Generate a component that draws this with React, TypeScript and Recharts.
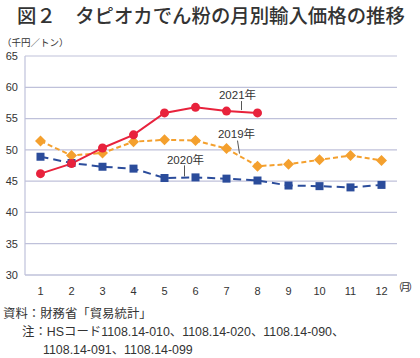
import { LineChart, Line, XAxis, YAxis, CartesianGrid } from "recharts";

const months = ["1", "2", "3", "4", "5", "6", "7", "8", "9", "10", "11", "12"];
const y2019 = [51.4, 49.1, 49.5, 51.3, 51.6, 51.5, 50.2, 47.4, 47.7, 48.4, 49.1, 48.3];
const y2020 = [48.9, 47.9, 47.3, 47.0, 45.5, 45.6, 45.4, 45.1, 44.3, 44.2, 44.0, 44.4];
const y2021 = [46.2, 47.8, 50.3, 52.4, 55.9, 56.8, 56.2, 55.9];
const yTicks = [30, 35, 40, 45, 50, 55, 60, 65];

const data = months.map((m, i) => ({
  month: m,
  y2019: y2019[i],
  y2020: y2020[i],
  y2021: i < y2021.length ? y2021[i] : null,
}));

const FONT = '"Liberation Sans", "Noto Sans CJK JP", sans-serif';
const JP = '"Noto Sans CJK JP", "Liberation Sans", sans-serif';

// label with a short leader line, drawn next to one chosen point of a series
function seriesLabel(
  text: string,
  at: number,
  tx: number,
  ty: number,
  l1: [number, number],
  l2: [number, number]
) {
  return (props: any) => {
    const { x, y, index } = props;
    if (index !== at || x == null) return null;
    return (
      <g>
        <line x1={x + l1[0]} y1={y + l1[1]} x2={x + l2[0]} y2={y + l2[1]} stroke="#555" strokeWidth={1} />
        <text x={x + tx} y={y + ty} textAnchor="middle" dominantBaseline="central" fontSize={11.5} fill="#333" fontFamily={FONT}>
          {text}
        </text>
      </g>
    );
  };
}

export default function App() {
  return (
    <div style={{ position: "absolute", left: 0, top: 0, width: 420, height: 358, background: "#fff", fontFamily: JP }}>
      <div style={{ position: "absolute", left: 17, top: 3, fontSize: 19.4, fontWeight: 500, color: "#333", whiteSpace: "nowrap", letterSpacing: 0, lineHeight: "24px" }}>
        図２　タピオカでん粉の月別輸入価格の推移
      </div>
      <div style={{ position: "absolute", left: 2, top: 36, fontSize: 9.5, color: "#333", whiteSpace: "nowrap", lineHeight: "12px" }}>
        （千円／トン）
      </div>
      <LineChart width={420} height={358} data={data} margin={{ top: 56, right: 23, bottom: 63, left: 5 }}>
        <CartesianGrid stroke="#BFC1DA" strokeWidth={1.2} vertical={false} />
        <XAxis
          dataKey="month"
          padding={{ left: 15.5, right: 15.5 }}
          tick={{ fontSize: 11, fill: "#333", fontFamily: FONT }}
          tickLine={false}
          axisLine={{ stroke: "#BFC1DA", strokeWidth: 1.2 }}
          tickMargin={6}
          height={20}
        />
        <YAxis
          domain={[30, 65]}
          ticks={yTicks}
          interval={0}
          tick={{ fontSize: 11, fill: "#333", fontFamily: FONT }}
          tickLine={false}
          axisLine={{ stroke: "#BFC1DA", strokeWidth: 1.2 }}
          width={20}
          tickMargin={1}
        />
        <YAxis
          yAxisId="r"
          orientation="right"
          domain={[30, 65]}
          tick={false}
          tickLine={false}
          axisLine={{ stroke: "#BFC1DA", strokeWidth: 1.2 }}
          width={0}
        />
        <Line
          dataKey="y2020"
          stroke="#2B4C9B"
          strokeWidth={2}
          strokeDasharray="8 5"
          dot={(p: any) => (
            <rect key={`b${p.index}`} x={p.cx - 4} y={p.cy - 4} width={8} height={8} fill="#2B4C9B" />
          )}
          label={seriesLabel("2020年", 5, -10, -17, [-11, -12], [-11, -1])}
          isAnimationActive={false}
        />
        <Line
          dataKey="y2019"
          stroke="#F4A02E"
          strokeWidth={2}
          strokeDasharray="5 3"
          dot={(p: any) => (
            <path
              key={`o${p.index}`}
              d={`M${p.cx},${p.cy - 5.5}L${p.cx + 5.5},${p.cy}L${p.cx},${p.cy + 5.5}L${p.cx - 5.5},${p.cy}Z`}
              fill="#F4A02E"
            />
          )}
          label={seriesLabel("2019年", 6, 10, -15, [11, -8], [13, 5])}
          isAnimationActive={false}
        />
        <Line
          dataKey="y2021"
          stroke="#E8223C"
          strokeWidth={2}
          connectNulls={false}
          dot={{ r: 4.5, fill: "#E8223C", stroke: "#E8223C", strokeWidth: 0 }}
          label={seriesLabel("2021年", 6, 11, -16, [15, -10], [15, -1])}
          isAnimationActive={false}
        />
      </LineChart>
      <div style={{ position: "absolute", left: 393, top: 281, fontSize: 10, color: "#333", whiteSpace: "nowrap", lineHeight: "12px", letterSpacing: -2.5 }}>
        （月）
      </div>
      <div style={{ position: "absolute", left: 3, top: 305, fontSize: 12.4, color: "#333", whiteSpace: "nowrap", lineHeight: "16px" }}>
        資料：財務省「貿易統計」
      </div>
      <div style={{ position: "absolute", left: 22, top: 324, fontSize: 12.4, color: "#333", whiteSpace: "nowrap", lineHeight: "16px", fontFamily: FONT }}>
        注：HSコード1108.14-010、1108.14-020、1108.14-090、
      </div>
      <div style={{ position: "absolute", left: 43, top: 342, fontSize: 12.4, color: "#333", whiteSpace: "nowrap", lineHeight: "16px", fontFamily: FONT }}>
        1108.14-091、1108.14-099
      </div>
    </div>
  );
}
